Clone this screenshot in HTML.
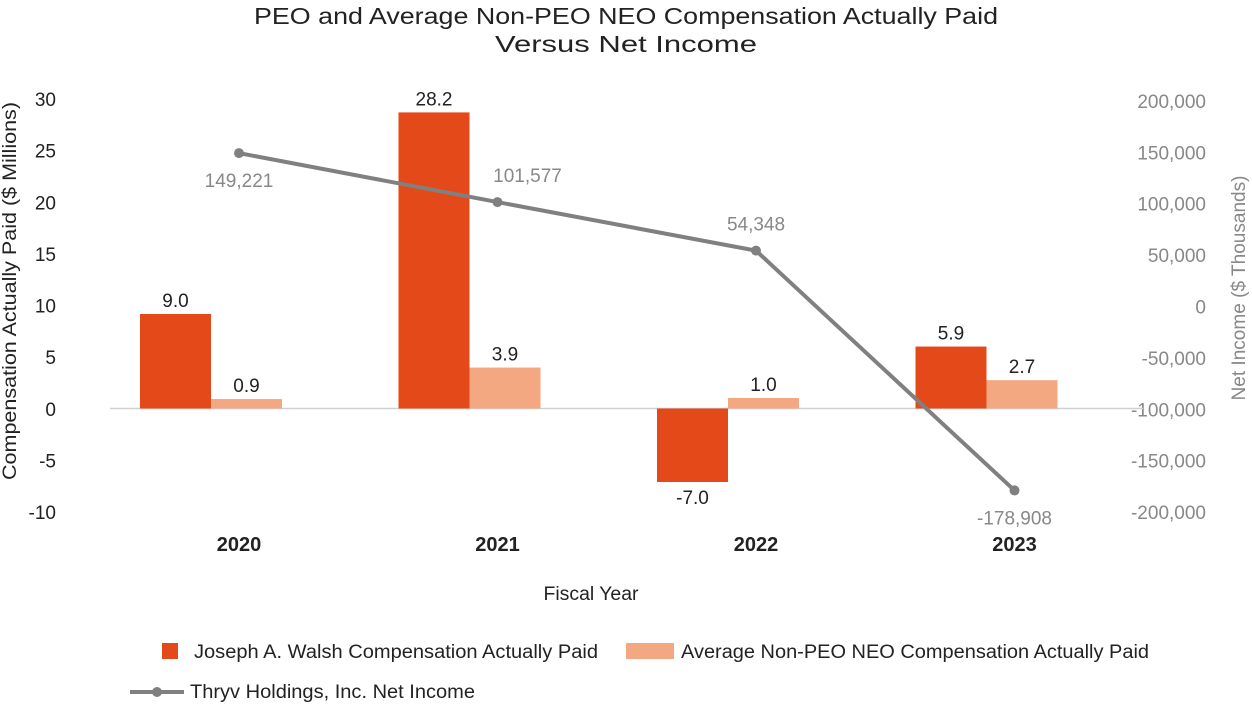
<!DOCTYPE html>
<html><head><meta charset="utf-8"><style>
body{margin:0;background:#fff;}
svg text{font-family:"Liberation Sans",sans-serif;}
</style></head><body>
<svg id="chart" width="1252" height="706" viewBox="0 0 1252 706" xmlns="http://www.w3.org/2000/svg">
<text x="626" y="24" text-anchor="middle" font-size="23" fill="#222" textLength="744" lengthAdjust="spacingAndGlyphs">PEO and Average Non-PEO NEO Compensation Actually Paid</text>
<text x="626" y="52" text-anchor="middle" font-size="23" fill="#222" textLength="262" lengthAdjust="spacingAndGlyphs">Versus Net Income</text>
<text transform="translate(16,291) rotate(-90)" text-anchor="middle" font-size="19" fill="#222" textLength="378" lengthAdjust="spacingAndGlyphs">Compensation Actually Paid ($ Millions)</text>
<text transform="translate(1245,288) rotate(-90)" text-anchor="middle" font-size="19" fill="#888" textLength="225" lengthAdjust="spacingAndGlyphs">Net Income ($ Thousands)</text>
<text x="591" y="600" text-anchor="middle" font-size="19" fill="#222" textLength="95" lengthAdjust="spacingAndGlyphs">Fiscal Year</text>
<g id="left-ticks"></g><g id="right-ticks"></g><g id="bars"></g><g id="line"></g><g id="cats"></g>
<g>
<rect x="162" y="643" width="16" height="16" fill="#E4491A"/>
<text x="194" y="658" font-size="19" fill="#222" textLength="404" lengthAdjust="spacingAndGlyphs">Joseph A. Walsh Compensation Actually Paid</text>
<rect x="626" y="643" width="48" height="16" fill="#F4A882"/>
<text x="681" y="658" font-size="19" fill="#222" textLength="468" lengthAdjust="spacingAndGlyphs">Average Non-PEO NEO Compensation Actually Paid</text>
<line x1="130" y1="692" x2="184" y2="692" stroke="#808080" stroke-width="4"/>
<circle cx="157" cy="692" r="5" fill="#808080"/>
<text x="190" y="698" font-size="19" fill="#222" textLength="285" lengthAdjust="spacingAndGlyphs">Thryv Holdings, Inc. Net Income</text>
</g>
</svg>
<script>
const categories=["2020","2021","2022","2023"];
const peoValues=[9.0,28.2,-7.0,5.9];
const neoValues=[0.9,3.9,1.0,2.7];
const netIncome=[149221,101577,54348,-178908];
const leftTicks=[30,25,20,15,10,5,0,-5,-10];
const rightTicks=[200000,150000,100000,50000,0,-50000,-100000,-150000,-200000];
const NS="http://www.w3.org/2000/svg";
function el(t,a,p){const e=document.createElementNS(NS,t);for(const k in a)e.setAttribute(k,a[k]);p.appendChild(e);return e;}
const yL=v=>408.5-v*10.5;
const yR=v=>306.5-v/50000*51.4;
const bandX=i=>110+i*258.5;
const cx=i=>bandX(i)+129;
const fmt=v=>v.toLocaleString('en-US');
const lt=document.getElementById('left-ticks');
leftTicks.forEach(v=>{const t=el('text',{x:56,y:408.75-v*10.325+7,'text-anchor':'end','font-size':19,fill:'#222'},lt);t.textContent=v;

});
const rt=document.getElementById('right-ticks');
rightTicks.forEach(v=>{const t=el('text',{x:1206,y:yR(v)+7,'text-anchor':'end','font-size':19,fill:'#888'},rt);t.textContent=fmt(v);

});
const bars=document.getElementById('bars');
const zl=el('line',{x1:110,x2:1143,y1:yL(0),y2:yL(0),stroke:'#d0d0d0','stroke-width':1.5},bars);


categories.forEach((c,i)=>{
 [[peoValues,'#E4491A',0,'peo'],[neoValues,'#F4A882',1,'neo']].forEach(([arr,col,k,nm])=>{
  const v=arr[i],x=bandX(i)+30+k*71,y0=yL(0),y=yL(v);
  const r=el('rect',{x:x,y:Math.min(y,y0),width:71,height:Math.abs(y-y0),fill:col},bars);
  
  
  const t=el('text',{x:x+35.5,y:v>=0?y-7:y+22,'text-anchor':'middle','font-size':19,fill:'#222'},bars);
  t.textContent=v.toFixed(1);
  
  
 });
 const ct=el('text',{x:cx(i),y:551,'text-anchor':'middle','font-size':20,'font-weight':'bold',fill:'#222'},document.getElementById('cats'));
 ct.textContent=c;
 
 
});
const lg=document.getElementById('line');
const pl=el('polyline',{points:netIncome.map((v,i)=>cx(i)+','+yR(v)).join(' '),fill:'none',stroke:'#808080','stroke-width':4},lg);


netIncome.forEach((v,i)=>{
 const p=el('circle',{cx:cx(i),cy:yR(v),r:5,fill:'#808080'},lg);
 
 
 const below=(i===0||i===3);
 const t=el('text',{x:cx(i)+(i===1?30:0),y:below?yR(v)+34:yR(v)-20,'text-anchor':'middle','font-size':19,fill:'#888'},lg);
 t.textContent=fmt(v);
 
 
});
</script>
</body></html>
